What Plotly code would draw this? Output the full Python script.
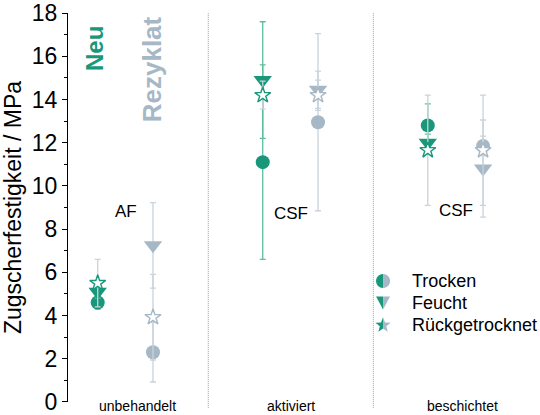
import math
import plotly.graph_objects as go

# groups / conditions
groups = ["unbehandelt", "aktiviert", "beschichtet"]
conditions = ["Trocken", "Feucht", "Rückgetrocknet"]
group_notes = ["AF", "CSF", "CSF"]

# Zugscherfestigkeit in MPa, per condition across the three groups
neu_trocken = [4.6, 11.1, 12.8]
neu_trocken_err = [0.3, 4.5, 1.0]
neu_feucht = [5.1, 14.9, 12.0]
neu_feucht_err = [0.3, 2.7, 0.4]
neu_rueck = [5.5, 14.2, 11.65]
neu_rueck_err = [1.1, 0.65, 2.55]

rez_trocken = [2.3, 12.95, 11.85]
rez_trocken_err = [1.38, 4.1, 0.45]
rez_feucht = [7.25, 14.45, 10.8]
rez_feucht_err = [1.98, 0.86, 2.25]
rez_rueck = [3.92, 14.2, 11.65]
rez_rueck_err = [1.98, 0.7, 2.55]

y_ticks = [0, 2, 4, 6, 8, 10, 12, 14, 16, 18]

GREEN = "#18977a"
GRAY = "#a6b8c6"
GREEN_BAR = "#5cbf9f"
GRAY_BAR = "#c9d3db"
FONT = "Liberation Sans, Arial, sans-serif"

symbols = {"Trocken": "circle", "Feucht": "triangle-down", "Rückgetrocknet": "star"}
sizes = {"Trocken": 14, "Feucht": 16, "Rückgetrocknet": 12}

series = [
    ("Neu", -0.17, GREEN, "Trocken", neu_trocken, neu_trocken_err, GREEN_BAR),
    ("Neu", -0.17, GREEN, "Feucht", neu_feucht, neu_feucht_err, GREEN_BAR),
    ("Neu", -0.17, GREEN, "Rückgetrocknet", neu_rueck, neu_rueck_err, GRAY_BAR),
    ("Rezyklat", 0.165, GRAY, "Trocken", rez_trocken, rez_trocken_err, GRAY_BAR),
    ("Rezyklat", 0.165, GRAY, "Feucht", rez_feucht, rez_feucht_err, GRAY_BAR),
    ("Rezyklat", 0.165, GRAY, "Rückgetrocknet", rez_rueck, rez_rueck_err, GRAY_BAR),
]

fig = go.Figure()
for mat, off, col, cond, vals, errs, barcol in series:
    xs = [i + off for i in range(len(groups))]
    if cond == "Rückgetrocknet":
        marker = dict(symbol="star", size=sizes[cond], color="white",
                      line=dict(color=col, width=1.4))
    else:
        marker = dict(symbol=symbols[cond], size=sizes[cond], color=col,
                      line=dict(width=0))
    fig.add_trace(go.Scatter(
        x=xs, y=vals, mode="markers", name=f"{mat} {cond}", marker=marker,
        error_y=dict(type="data", array=errs, visible=True, color=barcol,
                     thickness=1.3, width=3),
        showlegend=False,
    ))

# dotted separators between groups
for xsep in [0.5, 1.5]:
    fig.add_shape(type="line", xref="x", yref="paper", x0=xsep, x1=xsep,
                  y0=-0.015, y1=1.0, line=dict(color="#a0a0a0", width=1, dash="1px,1px"))

# group labels and notes
label_x = [0.07, 1.0, 2.04]
note_pos = [(0.0, 8.8), (1.0, 8.7), (2.0, 8.85)]
for g, lx, note, (nx, ny) in zip(groups, label_x, group_notes, note_pos):
    fig.add_annotation(x=lx, y=0, xref="x", yref="paper", text=g, showarrow=False,
                       yanchor="middle", yshift=-4, font=dict(size=14, color="black", family=FONT))
    fig.add_annotation(x=nx, y=ny, text=note, showarrow=False,
                       font=dict(size=17, color="black", family=FONT))

# material labels
fig.add_annotation(x=-0.185, y=16.35, text="<b>Neu</b>", textangle=-90, showarrow=False,
                   font=dict(size=24, color=GREEN, family=FONT))
fig.add_annotation(x=0.159, y=15.4, text="<b>Rezyklat</b>", textangle=-90, showarrow=False,
                   font=dict(size=26, color=GRAY, family=FONT))


# custom legend: half green / half gray markers
def bez_half(r, side):
    k = 0.5523 * r
    s = side
    return (f"M 0,{r} C {s*k},{r} {s*r},{k} {s*r},0 "
            f"C {s*r},{-k} {s*k},{-r} 0,{-r} Z")


def star_half(ro, ri, side):
    pts = []
    for j in range(6):
        ang = math.radians(90 + side * 36 * j)
        rad = ro if j % 2 == 0 else ri
        pts.append((rad * math.cos(ang), rad * math.sin(ang)))
    return "M " + " L ".join(f"{px:.2f},{py:.2f}" for px, py in pts) + " Z"


def tri_half(side):
    return f"M 0,6 L {side*7},6 L 0,-7 Z"


leg_x = 1.559
leg_text_x = 1.72
leg_y = [5.6, 4.6, 3.55]
leg_paths = [
    (bez_half(7, -1), bez_half(7, 1)),
    (tri_half(-1), tri_half(1)),
    (star_half(8, 3.4, 1), star_half(8, 3.4, -1)),
]
for cond, ly, (pl, pr) in zip(conditions, leg_y, leg_paths):
    for p, c in [(pl, GREEN), (pr, GRAY)]:
        fig.add_shape(type="path", xref="x", yref="y", xsizemode="pixel", ysizemode="pixel",
                      xanchor=leg_x, yanchor=ly, path=p, fillcolor=c, line=dict(width=0))
    fig.add_annotation(x=leg_text_x, y=ly, text=cond, showarrow=False, xanchor="left",
                       font=dict(size=18, color="black", family=FONT))

fig.update_layout(
    width=540, height=415,
    margin=dict(l=68, r=0, t=13, b=13),
    plot_bgcolor="white", paper_bgcolor="white",
    font=dict(family=FONT, color="black"),
    xaxis=dict(range=[-0.35, 2.51], visible=False, showgrid=False, zeroline=False),
    yaxis=dict(
        range=[-0.005, 18.005], tickmode="array", tickvals=y_ticks,
        showgrid=False, zeroline=False,
        showline=True, linecolor="black", linewidth=1,
        ticks="outside", ticklen=5, tickcolor="black",
        minor=dict(tickmode="array", tickvals=[t + 1 for t in y_ticks[:-1]],
                   ticks="outside", ticklen=3, tickcolor="black"),
        tickfont=dict(size=23),
        title=dict(text="Zugscherfestigkeit / MPa", font=dict(size=23), standoff=6),
    ),
)

fig.write_html("out.html", config={"displayModeBar": False},
               post_script="document.body.style.margin='0px';")
